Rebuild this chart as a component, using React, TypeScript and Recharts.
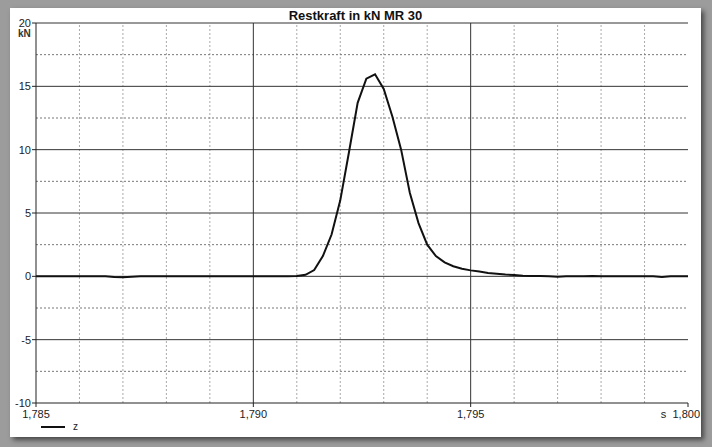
import { Line, LineChart, ReferenceLine, XAxis, YAxis } from "recharts";

const time = [
  1.785, 1.7852, 1.7854, 1.7856, 1.7858, 1.786, 1.7862, 1.7864, 1.7866, 1.7868,
  1.787, 1.7872, 1.7874, 1.7876, 1.7878, 1.788, 1.7882, 1.7884, 1.7886, 1.7888,
  1.789, 1.7892, 1.7894, 1.7896, 1.7898, 1.79, 1.7902, 1.7904, 1.7906, 1.7908,
  1.791, 1.7912, 1.7914, 1.7916, 1.7918, 1.792, 1.7922, 1.7924, 1.7926, 1.7928,
  1.793, 1.7932, 1.7934, 1.7936, 1.7938, 1.794, 1.7942, 1.7944, 1.7946, 1.7948,
  1.795, 1.7952, 1.7954, 1.7956, 1.7958, 1.796, 1.7962, 1.7964, 1.7966, 1.7968,
  1.797, 1.7972, 1.7974, 1.7976, 1.7978, 1.798, 1.7982, 1.7984, 1.7986, 1.7988,
  1.799, 1.7992, 1.7994, 1.7996, 1.7998, 1.8,
];

const force = [
  0, 0, 0, 0, 0, 0, 0, 0, 0, -0.05,
  -0.08, -0.03, 0, 0, 0, 0, 0, 0, 0, 0,
  0, 0, 0, 0, 0, 0, 0, 0, 0, 0,
  0.03, 0.12, 0.5, 1.6, 3.3, 6.0, 9.8, 13.7, 15.6, 15.95,
  14.8, 12.6, 10.0, 6.6, 4.2, 2.5, 1.6, 1.1, 0.8, 0.6,
  0.47, 0.38, 0.27, 0.2, 0.14, 0.1, 0.05, 0.03, 0.02, 0,
  -0.03, 0, 0, 0, 0.02, 0, 0, 0, 0, 0,
  0, 0, -0.05, 0, 0, 0,
];

const xMajor = [1.785, 1.79, 1.795, 1.8];
const xMinor = [1.786, 1.787, 1.788, 1.789, 1.791, 1.792, 1.793, 1.794, 1.796, 1.797, 1.798, 1.799];
const yMajor = [-10, -5, 0, 5, 10, 15, 20];
const yMinor = [-7.5, -2.5, 2.5, 7.5, 12.5, 17.5];

const data = time.map((t, i) => ({ t, z: force[i] }));

const fmt = (v: number) => v.toFixed(3).replace(".", ",");

function XTick({ x, y, payload }: any) {
  const last = payload.value === 1.8;
  return (
    <text
      x={last ? x + 12 : x}
      y={y + 9}
      textAnchor={last ? "end" : "middle"}
      fill="#222"
      fontSize={11}
      fontFamily="Liberation Sans, Arial, sans-serif"
    >
      {last ? "s\u00a0\u00a01,800" : fmt(payload.value)}
    </text>
  );
}

export default function App() {
  return (
    <div
      style={{
        position: "absolute",
        left: 0,
        top: 0,
        width: 712,
        height: 447,
        background: "#9c9c9c",
        fontFamily: "Liberation Sans, Arial, sans-serif",
      }}
    >
      <div
        style={{
          position: "absolute",
          left: 10,
          top: 8,
          width: 691,
          height: 429,
          background: "#fff",
          boxShadow: "3px 3px 5px rgba(0,0,0,0.55)",
        }}
      >
        <div
          style={{
            position: "absolute",
            left: 0,
            width: 691,
            top: 0,
            textAlign: "center",
            fontSize: 13,
            fontWeight: "bold",
            color: "#111",
          }}
        >
          Restkraft in kN MR 30
        </div>
        <div style={{ position: "absolute", left: 8, top: 20, fontSize: 10, fontWeight: "bold", color: "#333" }}>kN</div>
        <LineChart width={691} height={429} data={data} margin={{ top: 15, right: 13, bottom: 14, left: 0 }}>
          <XAxis
            dataKey="t"
            type="number"
            domain={[1.785, 1.8]}
            ticks={xMajor}
            tick={<XTick />}
            tickSize={4}
            height={20}
            stroke="#222"
          />
          <YAxis
            type="number"
            domain={[-10, 20]}
            ticks={yMajor}
            tickSize={4}
            tickMargin={1}
            width={26}
            stroke="#222"
            tick={{ fill: "#222", fontSize: 11 }}
          />
          {xMinor.map((v) => (
            <ReferenceLine key={"xm" + v} x={v} stroke="#aaa" strokeDasharray="2 2" />
          ))}
          {yMinor.map((v) => (
            <ReferenceLine key={"ym" + v} y={v} stroke="#777" strokeDasharray="2 2" />
          ))}
          {xMajor.slice(1, 3).map((v) => (
            <ReferenceLine key={"xM" + v} x={v} stroke="#333" />
          ))}
          {yMajor.slice(1).map((v) => (
            <ReferenceLine key={"yM" + v} y={v} stroke="#333" />
          ))}
          <Line
            type="linear"
            dataKey="z"
            name="z"
            stroke="#111"
            strokeWidth={2}
            dot={false}
            isAnimationActive={false}
          />
        </LineChart>
        <div style={{ position: "absolute", left: 31, top: 413, display: "flex", alignItems: "center" }}>
          <div style={{ width: 24, height: 2, background: "#111" }} />
          <span style={{ marginLeft: 8, fontSize: 10, color: "#222" }}>z</span>
        </div>
      </div>
    </div>
  );
}
